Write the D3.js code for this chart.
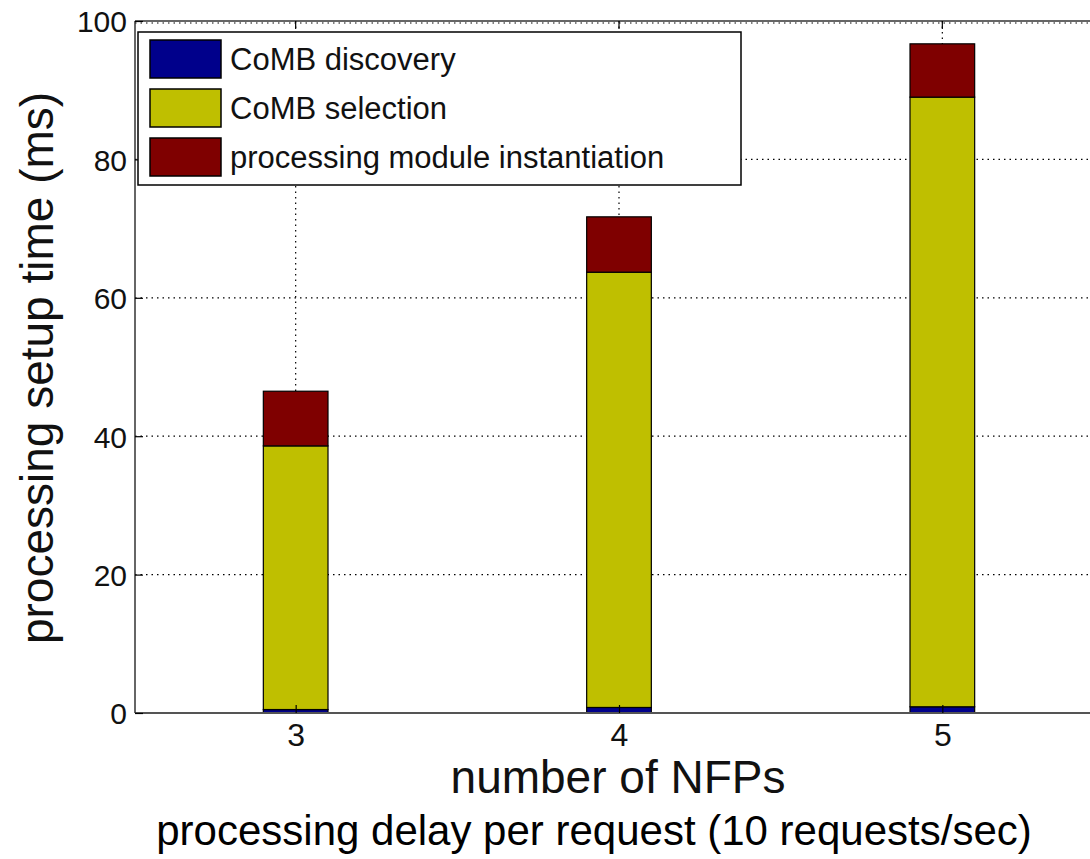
<!DOCTYPE html>
<html>
<head>
<meta charset="utf-8">
<script src="https://cdn.jsdelivr.net/npm/d3@7"></script>
<style>
  body { margin: 0; background: #fff; }
  svg { display: block; font-family: "Liberation Sans", Arial, Helvetica, sans-serif; }
</style>
</head>
<body>
<svg id="chart" width="1090" height="859"></svg>
<script>
const categories = [3, 4, 5];
const discovery = [0.5, 0.8, 0.9];
const selection = [38.1, 62.9, 88.1];
const instantiation = [7.9, 8.0, 7.7];
const seriesNames = ["CoMB discovery", "CoMB selection", "processing module instantiation"];
const seriesColors = ["#00008b", "#bfbf00", "#7f0000"];
const yTicks = [0, 20, 40, 60, 80, 100];

const svg = d3.select("#chart");

const plotLeft = 135, plotTop = 21, plotBottom = 713;
const x = d3.scaleLinear().domain([2.5, 5.5]).range([134, 1104]);
const y = d3.scaleLinear().domain([0, 100]).range([plotBottom, plotTop]);

const rows = categories.map((c, i) => ({
  cat: c,
  "CoMB discovery": discovery[i],
  "CoMB selection": selection[i],
  "processing module instantiation": instantiation[i]
}));
const stack = d3.stack().keys(seriesNames)(rows);

// grid lines
const grid = svg.append("g")
  .attr("stroke", "#000")
  .attr("stroke-width", 1.2)
  .attr("stroke-dasharray", "1.5,4");
grid.selectAll(".hg")
  .data(yTicks.slice(1))
  .enter()
  .append("line")
  .attr("x1", plotLeft).attr("x2", 1090)
  .attr("y1", (d) => y(d) + (d === 100 ? 2 : 0)).attr("y2", (d) => y(d) + (d === 100 ? 2 : 0));
grid.selectAll(".vg")
  .data(categories)
  .enter()
  .append("line")
  .attr("x1", (d) => x(d)).attr("x2", (d) => x(d))
  .attr("y1", plotTop).attr("y2", plotBottom);

// bars
const barW = x(3.1) - x(2.9);
svg.append("g")
  .selectAll("g")
  .data(stack)
  .enter()
  .append("g")
  .attr("fill", (d, i) => seriesColors[i])
  .selectAll("rect")
  .data((d) => d)
  .enter()
  .append("rect")
  .attr("x", (d) => x(d.data.cat) - barW / 2)
  .attr("y", (d) => y(d[1]))
  .attr("width", barW)
  .attr("height", (d) => y(d[0]) - y(d[1]))
  .attr("stroke", "#000")
  .attr("stroke-width", 1.2);

// axes
const axisG = svg.append("g").attr("stroke", "#333").attr("stroke-width", 1.5);
axisG.append("line").attr("x1", plotLeft).attr("x2", 1090).attr("y1", plotBottom).attr("y2", plotBottom).attr("stroke", "#555").attr("stroke-width", 2);
axisG.append("line").attr("x1", plotLeft).attr("x2", plotLeft).attr("y1", plotTop).attr("y2", plotBottom);
axisG.append("line").attr("x1", plotLeft).attr("x2", 1090).attr("y1", plotTop).attr("y2", plotTop);

const yAxis = d3.axisLeft(y).tickValues(yTicks).tickSize(-8).tickPadding(8);
const ya = svg.append("g").attr("transform", `translate(${plotLeft},0)`).call(yAxis);
ya.select(".domain").remove();
ya.selectAll("line").attr("stroke", "#000").attr("stroke-width", 1.2);
ya.selectAll("text").attr("font-size", 30).attr("fill", "#111").attr("dy", "0.36em");

const xAxis = d3.axisBottom(x).tickValues(categories).tickFormat(d3.format("d")).tickSize(-8).tickPadding(10);
const xa = svg.append("g").attr("transform", `translate(0,${plotBottom})`).call(xAxis);
xa.select(".domain").remove();
xa.selectAll("line").attr("stroke", "#000").attr("stroke-width", 1.2);
xa.selectAll("text").attr("font-size", 32).attr("fill", "#111");

// top ticks
svg.append("g")
  .selectAll("line")
  .data(categories)
  .enter()
  .append("line")
  .attr("x1", (d) => x(d)).attr("x2", (d) => x(d))
  .attr("y1", plotTop).attr("y2", plotTop + 8)
  .attr("stroke", "#000").attr("stroke-width", 1.2);

// labels
svg.append("text")
  .attr("x", 618).attr("y", 793)
  .attr("text-anchor", "middle")
  .attr("font-size", 46)
  .attr("fill", "#111")
  .text("number of NFPs");

svg.append("text")
  .attr("transform", "translate(53,368) rotate(-90)")
  .attr("text-anchor", "middle")
  .attr("font-size", 46)
  .attr("fill", "#111")
  .text("processing setup time (ms)");

svg.append("text")
  .attr("x", 594).attr("y", 845)
  .attr("text-anchor", "middle")
  .attr("font-size", 42)
  .attr("fill", "#000")
  .text("processing delay per request (10 requests/sec)");

// legend
const legend = svg.append("g");
legend.append("rect")
  .attr("x", 138).attr("y", 32)
  .attr("width", 603).attr("height", 153)
  .attr("fill", "#fff")
  .attr("stroke", "#000")
  .attr("stroke-width", 1.5);
const items = legend.selectAll(".item")
  .data(seriesNames)
  .enter()
  .append("g")
  .attr("transform", (d, i) => `translate(150,${40 + i * 49})`);
items.append("rect")
  .attr("width", 71).attr("height", 38)
  .attr("fill", (d, i) => seriesColors[i])
  .attr("stroke", "#000")
  .attr("stroke-width", 1.5);
items.append("text")
  .attr("x", 80).attr("y", 19)
  .attr("dy", "0.36em")
  .attr("font-size", 31)
  .attr("fill", "#111")
  .text((d) => d);
</script>
</body>
</html>
